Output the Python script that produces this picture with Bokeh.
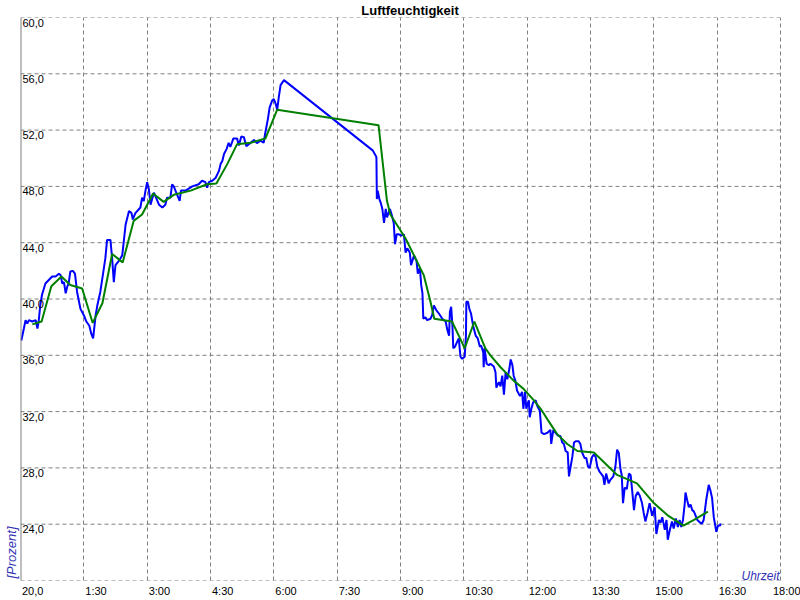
import math
from bokeh.plotting import figure
from bokeh.models import FixedTicker, Span, Range1d, ColumnDataSource, Title
from bokeh.core.properties import value
from bokeh.embed import file_html
from bokeh.resources import INLINE

title_text = "Luftfeuchtigkeit"
x_label = "Uhrzeit"
y_label = "[Prozent]"

x_tick_values = [0, 1.5, 3, 4.5, 6, 7.5, 9, 10.5, 12, 13.5, 15, 16.5, 18]
x_tick_labels = ["", "1:30", "3:00", "4:30", "6:00", "7:30", "9:00", "10:30",
                 "12:00", "13:30", "15:00", "16:30", "18:00"]
y_tick_values = [20, 24, 28, 32, 36, 40, 44, 48, 52, 56, 60]
y_tick_labels = ["20,0", "24,0", "28,0", "32,0", "36,0", "40,0", "44,0",
                 "48,0", "52,0", "56,0", "60,0"]

# measured series (time in hours after start, relative humidity in %)
blue_t = [0.02, 0.08, 0.12, 0.16, 0.2, 0.28, 0.36, 0.4, 0.43, 0.47, 0.51, 0.59, 0.67, 0.75, 0.83,
          0.91, 0.95, 0.99, 1.03, 1.07, 1.11, 1.14, 1.18, 1.24, 1.29, 1.34, 1.42, 1.5, 1.56, 1.63,
          1.68, 1.72, 1.78, 1.82, 1.89, 1.95, 2.01, 2.05, 2.13, 2.17, 2.21, 2.25, 2.33, 2.41, 2.49,
          2.57, 2.63, 2.66, 2.72, 2.84, 2.88, 2.92, 2.96, 3.0, 3.04, 3.08, 3.16, 3.28, 3.36, 3.43,
          3.47, 3.55, 3.59, 3.63, 3.71, 3.77, 3.8, 3.91, 4.07, 4.22, 4.3, 4.38, 4.42, 4.46, 4.54,
          4.62, 4.7, 4.74, 4.78, 4.82, 4.88, 4.93, 4.97, 5.04, 5.13, 5.17, 5.23, 5.29, 5.35, 5.45,
          5.53, 5.6, 5.68, 5.76, 5.8, 5.86, 5.9, 5.96, 6.0, 6.04, 6.08, 6.12, 6.16, 6.24,
          8.34, 8.41, 8.43, 8.44, 8.46, 8.5, 8.53, 8.57, 8.61, 8.65, 8.68, 8.75, 8.79, 8.84, 8.87,
          8.91, 8.96, 9.02, 9.08, 9.12, 9.16, 9.22, 9.25, 9.32, 9.38, 9.41, 9.46, 9.49, 9.52, 9.54,
          9.59, 9.63, 9.71, 9.75, 9.79, 9.85, 9.91, 9.99, 10.07, 10.11, 10.15, 10.17, 10.2, 10.23,
          10.25, 10.29, 10.34, 10.38, 10.42, 10.46, 10.52, 10.55, 10.56, 10.6, 10.63, 10.67, 10.72,
          10.78, 10.83, 10.88, 10.91, 10.96, 10.97, 10.99, 11.04, 11.09, 11.13, 11.21, 11.25, 11.27,
          11.33, 11.37, 11.41, 11.45, 11.49, 11.53, 11.57, 11.61, 11.65, 11.68, 11.72, 11.76, 11.83,
          11.88, 11.91, 11.95, 11.98, 12.04, 12.06, 12.1, 12.14, 12.2, 12.24, 12.3, 12.34, 12.4,
          12.48, 12.55, 12.57, 12.62, 12.67, 12.73, 12.79, 12.83, 12.87, 12.91, 12.96, 12.99, 13.03,
          13.07, 13.11, 13.15, 13.22, 13.26, 13.3, 13.36, 13.4, 13.44, 13.48, 13.54, 13.58, 13.62,
          13.66, 13.71, 13.75, 13.8, 13.83, 13.87, 13.93, 13.97, 14.04, 14.09, 14.13, 14.17, 14.21,
          14.24, 14.27, 14.31, 14.36, 14.41, 14.45, 14.49, 14.53, 14.57, 14.62, 14.67, 14.72, 14.76,
          14.8, 14.85, 14.9, 14.96, 15.02, 15.06, 15.12, 15.16, 15.2, 15.26, 15.3, 15.33, 15.38,
          15.43, 15.47, 15.52, 15.57, 15.61, 15.65, 15.69, 15.73, 15.75, 15.79, 15.83, 15.87, 15.91,
          15.95, 16.03, 16.1, 16.14, 16.18, 16.24, 16.3, 16.34, 16.38, 16.42, 16.48, 16.52, 16.57,
          16.58]
blue_v = [37.05, 37.9, 38.5, 38.25, 38.5, 38.4, 38.5, 37.9, 38.4, 39.6, 40.3, 41.1, 41.35, 41.6, 41.6,
          41.8, 41.7, 41.1, 41.2, 40.4, 40.9, 41.1, 41.95, 42.0, 41.8, 40.5, 39.3, 38.85, 38.4, 38.1,
          37.5, 37.2, 38.85, 39.55, 40.5, 41.7, 42.9, 44.2, 44.2, 42.9, 41.2, 42.4, 42.7, 43.1, 45.3,
          46.25, 46.1, 45.65, 46.1, 46.5, 47.2, 46.95, 47.7, 48.3, 47.8, 46.7, 47.55, 46.7, 46.5, 46.7,
          47.2, 47.2, 48.15, 48.0, 47.4, 46.97, 47.7, 47.7, 48.0, 48.15, 48.4, 48.3, 47.9, 48.3, 48.4,
          48.6, 49.1, 49.6, 49.8, 50.3, 50.65, 51.1, 50.8, 51.4, 51.4, 50.9, 51.55, 51.5, 50.85, 51.1,
          51.3, 51.07, 51.25, 51.1, 51.85, 52.8, 53.6, 54.1, 54.2, 53.9, 53.45, 54.4, 55.2, 55.55,
          50.56, 50.2, 50.06, 47.1, 47.7, 47.1, 46.85, 46.4, 45.4, 46.4, 45.8, 46.4, 46.0, 45.4, 43.9,
          44.6, 44.6, 44.5, 44.6, 43.3, 43.6, 43.3, 42.4, 43.1, 42.7, 41.8, 42.2, 41.0, 40.4, 38.6,
          38.7, 38.5, 38.6, 38.85, 39.55, 39.2, 38.97, 38.6, 38.4, 37.8, 37.4, 39.1, 39.45, 38.1,
          36.5, 36.6, 36.95, 37.2, 35.9, 35.75, 35.9, 37.4, 39.8, 39.8, 39.3, 38.97, 38.1,
          37.4, 37.2, 36.6, 36.7, 36.2, 35.15, 36.5, 35.4, 35.3, 35.4, 35.2, 34.8, 33.7,
          34.1, 33.8, 34.55, 33.2, 34.8, 34.3, 34.9, 35.7, 35.3, 34.55, 34.2, 33.5, 33.1,
          33.4, 32.2, 33.4, 32.2, 32.8, 31.6, 32.2, 32.65, 32.8, 32.4, 32.05, 30.5, 30.4,
          30.5, 30.7, 29.7, 30.7, 30.5, 30.3, 30.25, 29.8, 29.7, 29.2, 29.1, 27.4, 28.1,
          28.8, 29.8, 29.9, 29.9, 29.7, 29.1, 28.7, 28.7, 28.1, 28.0, 28.8, 28.95, 28.8,
          28.1, 27.75, 27.6, 27.4, 26.8, 27.6, 26.9, 27.15, 27.4, 28.1, 29.3, 29.07, 27.9,
          27.5, 25.5, 26.6, 26.5, 27.6, 27.5, 26.3, 25.0, 26.0, 26.3, 26.0, 25.5, 24.8,
          24.2, 24.8, 25.5, 24.6, 25.2, 23.3, 24.3, 24.1, 24.5, 23.6, 24.3, 22.9, 23.6,
          24.2, 23.7, 24.4, 23.8, 24.3, 23.8, 24.3, 25.4, 26.25, 25.7, 25.2, 25.4, 25.0,
          24.9, 24.3, 24.1, 24.05, 24.3, 25.7, 26.8, 26.4, 25.85, 24.5, 23.45, 23.9, 23.9,
          24.05]

# smoothed series
green_t = [0.28, 0.5, 0.73, 0.97, 1.18, 1.46, 1.71, 1.94, 2.17, 2.42, 2.68, 2.88, 3.14, 3.39, 3.63,
           4.03, 4.42, 4.64, 4.9, 5.13, 5.45, 5.8, 6.08, 8.48, 8.68, 8.76, 9.12, 9.32, 9.55, 9.71,
           9.8, 10.22, 10.38, 10.52, 10.75, 11.01, 11.13, 11.37, 11.68, 11.92, 12.16, 12.32, 12.48,
           12.71, 12.95, 13.19, 13.58, 13.82, 14.13, 14.6, 15.0, 15.32, 15.7, 15.95, 16.28]
green_v = [38.2, 38.4, 40.9, 41.6, 41.0, 40.75, 38.3, 39.7, 43.2, 42.6, 45.55, 46.0, 47.5, 46.9, 47.4,
           47.7, 48.15, 48.2, 49.6, 51.0, 51.1, 51.4, 53.45, 52.35, 46.96, 46.0, 44.3, 43.1, 41.7, 39.8,
           38.6, 38.4, 37.4, 36.5, 38.4, 36.5, 36.0, 35.15, 34.2, 33.6, 32.8, 32.2, 31.45,
           30.4, 29.7, 29.2, 29.1, 28.4, 27.5, 26.9, 25.5, 24.65, 23.9, 24.3, 24.9]

FONT = "Liberation Sans"
GRID = "#808080"
LABEL_BLUE = "#3232b4"

# layout (pixels)
W, H = 800, 600
BL, BB = 20, 20
GRID_RIGHT_PX = 780           # where the 18:00 grid line sits
BR = 1                        # frame runs on past the last grid line so its label can show
px_per_hour = (GRID_RIGHT_PX - BL) / (x_tick_values[-1] - x_tick_values[0])
x_end = x_tick_values[-1] + (W - BR - GRID_RIGHT_PX) / px_per_hour

p = figure(width=W, height=H,
           x_range=Range1d(x_tick_values[0], x_end),
           y_range=Range1d(y_tick_values[0], y_tick_values[-1]),
           output_backend="svg", toolbar_location=None, y_axis_location=None,
           min_border_left=BL, min_border_right=BR, min_border_top=0, min_border_bottom=BB)
p.outline_line_color = None
p.background_fill_color = "white"
p.border_fill_color = "white"

p.title.text = title_text
p.title.align = "center"
p.title.text_font = FONT
p.title.text_font_size = "13px"
p.title.text_font_style = "bold"
p.title.text_color = "black"
p.title.standoff = 0
p.title.offset = -(W - BR - GRID_RIGHT_PX) / 2

p.add_layout(Title(text=y_label, align="left", offset=2, standoff=3,
                   text_font=FONT, text_font_size="13px", text_font_style="italic",
                   text_color=LABEL_BLUE), "left")

# x tick labels are left-aligned at their tick: shift the (centred) label positions
TICK_PX = 11
def _label_width(s):
    w = 0.0
    for ch in s:
        w += 0.278 if ch in ":,." else 0.556
    return w * TICK_PX

axis_ticks = []
overrides = {}
for v, lab in zip(x_tick_values, x_tick_labels):
    if v == x_tick_values[0]:
        lab = y_tick_labels[0]
    pos = float(v + (_label_width(lab) / 2 + 1.5) / px_per_hour)
    axis_ticks.append(pos)
    overrides[pos] = lab

xax = p.xaxis[0]
xax.ticker = FixedTicker(ticks=axis_ticks)
xax.major_label_overrides = overrides
xax.axis_line_color = None
xax.major_tick_line_color = None
xax.minor_tick_line_color = None
xax.major_tick_out = 0
xax.major_tick_in = 0
xax.major_label_standoff = 4
xax.major_label_text_font = FONT
xax.major_label_text_font_size = f"{TICK_PX}px"
xax.major_label_text_color = "black"

# vertical grid lines
p.xgrid.ticker = FixedTicker(ticks=x_tick_values)
p.xgrid.grid_line_color = GRID
p.xgrid.grid_line_dash = "4 3"
p.xgrid.grid_line_width = 1
# horizontal grid lines stop at the last time grid line
p.ygrid.visible = False
n_y = len(y_tick_values)
p.segment(x0=[x_tick_values[0]] * n_y, x1=[x_tick_values[-1]] * n_y,
          y0=y_tick_values, y1=y_tick_values,
          line_color=GRID, line_dash="4 3", line_width=1)

p.add_layout(Span(location=x_tick_values[0], dimension="height", line_color=GRID, line_width=2))

p.line(blue_t, blue_v, line_color="#0000ff", line_width=2)
p.line(green_t, green_v, line_color="#008000", line_width=2)

ysrc = ColumnDataSource(dict(x=[x_tick_values[0]] * (n_y - 1),
                             y=y_tick_values[1:], text=y_tick_labels[1:]))
p.text(x="x", y="y", text="text", source=ysrc, x_offset=2, y_offset=1,
       text_align="left", text_baseline="top", text_font=value(FONT),
       text_font_size=f"{TICK_PX}px", text_color="black")

p.text(x=[x_tick_values[-1]], y=[y_tick_values[0]], text=[x_label], x_offset=-1, y_offset=-5,
       text_align="right", text_baseline="alphabetic", text_font=value(FONT),
       text_font_size="12px", text_font_style="italic", text_color=LABEL_BLUE)

open("out.html", "w").write(file_html(p, INLINE))
